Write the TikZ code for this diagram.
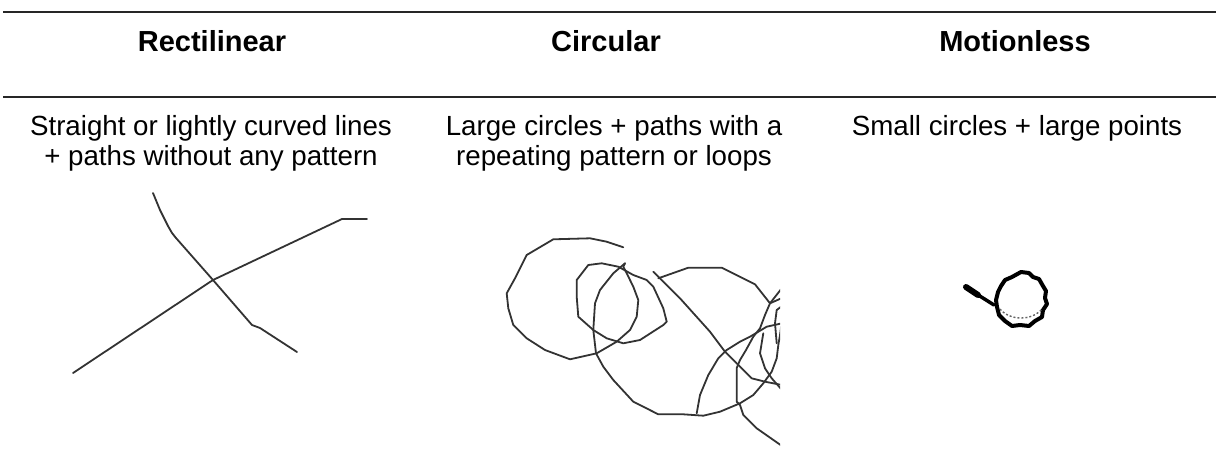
\documentclass[tikz,border=0pt]{standalone}
\usepackage{fontspec}
\setmainfont{Liberation Sans}
\begin{document}
\begin{tikzpicture}[x=1pt,y=-1pt,
  rule/.style={line width=2pt,black!85},
  head/.style={anchor=base,font=\fontsize{29}{33}\selectfont\bfseries},
  body/.style={anchor=base,font=\fontsize{27.7}{30}\selectfont},
  pen/.style={line width=1.8pt,black!80,line join=round,line cap=round},
  thick pen/.style={line width=4pt,black,line join=round,line cap=round}]
\useasboundingbox (0,0) rectangle (1216,474);
\draw[rule] (3,12) -- (1216,12);
\draw[rule] (3,97) -- (1216,97);
% headers
\node[head] (h1) at (212,51) {Rectilinear};
\node[head] (h2) at (606,51) {Circular};
\node[head] (h3) at (1015,51) {Motionless};
% descriptions
\node[body] (d1a) at (211,135) {Straight or lightly curved lines};
\node[body] (d1b) at (211,165) {+ paths without any pattern};
\node[body] (d2a) at (614,135) {Large circles + paths with a};
\node[body] (d2b) at (614,165) {repeating pattern or loops};
\node[body] (d3a) at (1017,135) {Small circles + large points};
% rectilinear sketch
\draw[pen] (153,193) -- (160,210) -- (168,226) -- (172,233) -- (176,238) -- (213,280) -- (252,325) -- (260,328) -- (297,352);
\draw[pen] (73,373) -- (213,280) -- (342,219) -- (367,219);
% circular sketch
\begin{scope}
\clip (480,200) rectangle (780,460);
\draw[pen] (623.3,247.3) -- (606.7,241.7) -- (590,238.3) -- (553.3,239.3) -- (526.7,255) -- (515,278.3) -- (506.7,293.3) -- (508.3,308.3) -- (513.3,325) -- (526.7,338.3) -- (545,350) -- (570,359.3) -- (596.7,353.3) -- (616.7,341.7) -- (630,330) -- (636.7,316.7) -- (638.3,300) -- (633.3,286.7) -- (626.7,273.3) -- (623.3,266.7) -- (625,263.3);
\draw[pen] (588.3,265) -- (601.7,263.3) -- (618.3,266.7) -- (633.3,275) -- (646.7,280) -- (653.3,286.7) -- (663.3,308.3) -- (666.7,321.7) -- (663.3,325) -- (640,340) -- (623.3,343.3) -- (606.7,338.3) -- (593.3,330) -- (578.3,316.7) -- (576.7,296.7) -- (576.7,280) -- cycle;
\draw[pen] (625,263.3) -- (613.3,273.3) -- (600,290) -- (595,303.3) -- (593.3,330) -- (596,353.3) -- (603.3,366.7) -- (613.3,380) -- (633.3,401.7) -- (658.3,414.3) -- (683.3,414.3) -- (703.3,415.7) -- (720,411.7) -- (740,403.3) -- (753.3,395) -- (763.3,383.3) -- (771.7,371.7) -- (776.7,358.3) -- (778.3,345) -- (780,335) -- (782,320);
\draw[pen] (658.3,278.3) -- (688.3,267.7) -- (721.7,267.7) -- (755,284.3) -- (770,303.3) -- (782,288);
\draw[pen] (770,303.3) -- (782,298);
\draw[pen] (770,303.3) -- (765,315) -- (760,328.3) -- (753.3,336.7) -- (746,350) -- (740,360) -- (736.7,368) -- (736.7,401.7) -- (740,405) -- (743.3,415) -- (756.7,428.3) -- (782,446);
\draw[pen] (696.7,413.3) -- (700,395) -- (708.3,375) -- (718.3,358.3) -- (726.7,350) -- (740,341.7) -- (750,336.7) -- (766.7,326.7) -- (782,323.3);
\draw[pen] (653.3,271.7) -- (680,298.3) -- (710,331.7) -- (725,351.7) -- (740,366.7) -- (751.7,378.3) -- (765,381.7) -- (782,385);
\draw[pen] (782,306) -- (776.7,310) -- (775,323.3) -- (776.7,343.3);
\draw[pen] (763.3,333.3) -- (760,353.3) -- (765,368.3) -- (771.7,378.3) -- (782,390);
\end{scope}
% motionless sketch
\draw[thick pen] (1021,272) -- (1029,273) -- (1033,277) -- (1039,279) -- (1043,286) -- (1046,291) -- (1045,298) -- (1047,304) -- (1043,310) -- (1042,317) -- (1035,321) -- (1029,326) -- (1020,325) -- (1012,326) -- (1005,321) -- (999,315) -- (997,307) -- (996,300) -- (998,292) -- (1001,286) -- (1005,280) -- (1012,277) -- cycle;
\draw[line width=1.4pt,black!60,dashed,dash pattern=on 2pt off 2pt] (1000,309) .. controls (1010,321) and (1032,321) .. (1042,309);
\draw[line width=6pt,black,line cap=round] (966,287) -- (978,295);
\draw[line width=3.5pt,black,line cap=round] (975,293) -- (994,305);
\end{tikzpicture}
\end{document}
